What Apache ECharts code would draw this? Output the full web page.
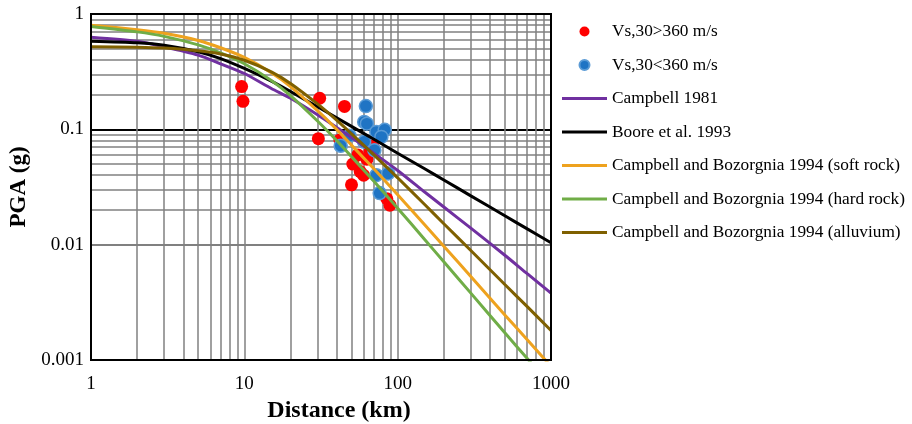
<!DOCTYPE html>
<html>
<head>
<meta charset="utf-8">
<script src="https://cdn.jsdelivr.net/npm/echarts@6/dist/echarts.min.js"></script>
<style>
html,body{margin:0;padding:0;background:#fff;}
#chart{width:912px;height:424px;}
</style>
</head>
<body>
<div id="chart"></div>
<script>
// Distances (km) at which the attenuation curves were read
const distances = [1, 2, 3, 5, 7, 10, 15, 20, 30, 40, 50, 70, 100, 150, 200, 300, 500, 700, 1000];
const campbell1981 = [0.63, 0.58, 0.52, 0.44, 0.37, 0.305, 0.226, 0.186, 0.134, 0.104, 0.085, 0.062, 0.044, 0.0286, 0.0212, 0.0139, 0.0081, 0.0056, 0.0038];
const boore1993 = [0.58, 0.562, 0.535, 0.47, 0.41, 0.337, 0.262, 0.213, 0.157, 0.126, 0.106, 0.082, 0.062, 0.0455, 0.0364, 0.0265, 0.0178, 0.0137, 0.0104];
const cbSoftRock = [0.80, 0.73, 0.68, 0.59, 0.51, 0.42, 0.31, 0.235, 0.145, 0.100, 0.073, 0.0455, 0.0271, 0.0149, 0.0097, 0.0053, 0.00246, 0.0015, 0.00088];
const cbHardRock = [0.78, 0.70, 0.64, 0.54, 0.46, 0.37, 0.265, 0.196, 0.118, 0.080, 0.058, 0.0354, 0.0207, 0.0111, 0.0071, 0.0038, 0.00172, 0.00103, 0.00059];
const cbAlluvium = [0.52, 0.515, 0.506, 0.48, 0.45, 0.397, 0.315, 0.25, 0.166, 0.12, 0.0914, 0.060, 0.038, 0.0223, 0.0152, 0.0089, 0.00451, 0.0029, 0.0018];

// Recorded PGA, Vs,30 > 360 m/s
const redDist = [9.6, 9.8, 31, 45, 30.4, 42, 51, 55, 57, 60, 63, 66, 69, 50, 85, 89];
const redPGA  = [0.235, 0.175, 0.186, 0.158, 0.083, 0.081, 0.050, 0.060, 0.043, 0.040, 0.055, 0.065, 0.072, 0.033, 0.025, 0.022];
// Recorded PGA, Vs,30 < 360 m/s
const blueDist = [62, 60.5, 63, 72.6, 82.3, 78.3, 42.5, 48.5, 60.5, 70.5, 72.6, 86.6, 76.3];
const bluePGA  = [0.159, 0.116, 0.112, 0.095, 0.099, 0.086, 0.072, 0.088, 0.078, 0.066, 0.040, 0.0415, 0.028];

const xTickLabels = ['1', '10', '100', '1000'];
const yTickLabels = ['0.001', '0.01', '0.1', '1'];
const minorX = [2,3,4,5,6,7,8,9,20,30,40,50,60,70,80,90,200,300,400,500,600,700,800,900];
const minorY = [0.002,0.003,0.004,0.005,0.006,0.007,0.008,0.009,0.02,0.03,0.04,0.05,0.06,0.07,0.08,0.09,0.2,0.3,0.4,0.5,0.6,0.7,0.8,0.9];

const seriesNames = ['Vs,30>360 m/s', 'Vs,30<360 m/s', 'Campbell 1981', 'Boore et al. 1993',
  'Campbell and Bozorgnia 1994 (soft rock)', 'Campbell and Bozorgnia 1994 (hard rock)', 'Campbell and Bozorgnia 1994 (alluvium)'];

const font = 'Liberation Serif, Times New Roman, serif';
const pair = (xs, ys) => xs.map((x, i) => [x, ys[i]]);
const lineIcon = 'path://M0,0H45V3H0Z';

function curve(name, ys, color) {
  return {
    name: name, type: 'line', data: pair(distances, ys),
    smooth: 0.25, showSymbol: false, symbol: 'none', clip: true,
    lineStyle: { color: color, width: 3 }, itemStyle: { color: color },
    z: 5
  };
}

const chart = echarts.init(document.getElementById('chart'), null, { renderer: 'canvas' });
chart.setOption({
  animation: false,
  backgroundColor: '#fff',
  grid: { left: 91, right: 361, top: 14, bottom: 64, show: true, borderColor: '#000', borderWidth: 2,
    backgroundColor: 'transparent', z: 10, containLabel: false, outerBoundsMode: 'none' },
  xAxis: {
    type: 'log', logBase: 10, min: 1, max: 1000,
    name: 'Distance (km)', nameLocation: 'middle', nameGap: 36,
    nameTextStyle: { fontFamily: font, fontWeight: 'bold', fontSize: 24, color: '#000', padding: [0, 0, 0, 36] },
    axisLine: { show: false }, axisTick: { show: false },
    axisLabel: { fontFamily: font, fontSize: 19, color: '#000', margin: 15,
      formatter: v => xTickLabels[Math.round(Math.log10(v))] },
    splitLine: { show: true, lineStyle: { color: '#808080', width: 1.5 } }
  },
  yAxis: {
    type: 'log', logBase: 10, min: 0.001, max: 1,
    name: 'PGA (g)', nameLocation: 'middle', nameGap: 58,
    nameTextStyle: { fontFamily: font, fontWeight: 'bold', fontSize: 23, color: '#000' },
    axisLine: { show: false }, axisTick: { show: false },
    axisLabel: { fontFamily: font, fontSize: 19, color: '#000', margin: 7,
      formatter: v => yTickLabels[Math.round(Math.log10(v)) + 3] },
    splitLine: { show: true, lineStyle: { color: '#000', width: 2 } }
  },
  legend: {
    orient: 'vertical', left: 557, top: 18, itemWidth: 45, itemHeight: 10, itemGap: 16.5,
    textStyle: { fontFamily: font, fontSize: 17.3, color: '#000' },
    data: seriesNames.map((n, i) => ({ name: n, icon: i < 2 ? 'circle' : lineIcon }))
  },
  series: [
    {
      name: '_grid', type: 'line', data: [], silent: true, z: 1,
      markLine: {
        silent: true, symbol: ['none', 'none'], animation: false, z: 1,
        label: { show: false },
        lineStyle: { color: '#808080', width: 1.5, type: 'solid' },
        emphasis: { disabled: true },
        data: minorX.map(v => ({ xAxis: v })).concat(minorY.map(v => ({ yAxis: v })))
      }
    },
    {
      name: seriesNames[0], type: 'scatter', data: pair(redDist, redPGA), symbol: 'circle', symbolSize: 13,
      itemStyle: { color: '#ff0000', opacity: 1 }, z: 3
    },
    {
      name: seriesNames[1], type: 'scatter', data: pair(blueDist, bluePGA), symbol: 'circle', symbolSize: 13,
      itemStyle: { color: '#1f74c4', borderColor: '#5b9bd5', borderWidth: 1.5, opacity: 1 }, z: 4
    },
    curve(seriesNames[2], campbell1981, '#7030a0'),
    curve(seriesNames[3], boore1993, '#000000'),
    curve(seriesNames[4], cbSoftRock, '#eea21e'),
    curve(seriesNames[5], cbHardRock, '#70ad47'),
    curve(seriesNames[6], cbAlluvium, '#7f6000')
  ]
});
</script>
</body>
</html>
